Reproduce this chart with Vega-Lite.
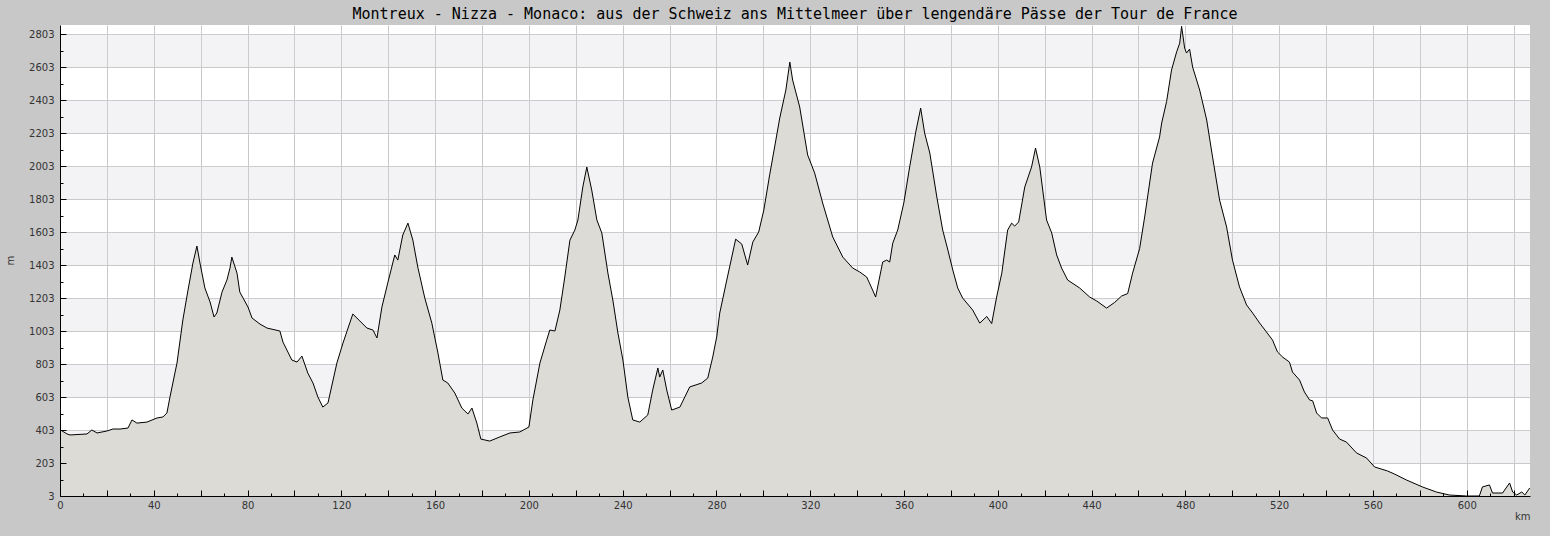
{
  "$schema": "https://vega.github.io/schema/vega-lite/v6.json",
  "width": 1470,
  "height": 471,
  "autosize": {"type": "none"},
  "padding": {"left": 60, "top": 25, "right": 20, "bottom": 40},
  "background": "#c8c8c8",
  "title": {"text": "Montreux - Nizza - Monaco: aus der Schweiz ans Mittelmeer über lengendäre Pässe der Tour de France", "font": "DejaVu Sans Mono", "fontSize": 15, "fontWeight": "normal", "color": "#000000", "anchor": "middle", "offset": 3},
  "config": {
    "view": {"fill": "white", "stroke": null},
    "axis": {"labelFont": "DejaVu Sans", "labelFontSize": 10, "labelColor": "#333333", "titleFont": "DejaVu Sans", "titleFontSize": 10, "titleFontWeight": "normal", "titleColor": "#333333", "domainColor": "#000000", "tickColor": "#000000", "gridColor": "#c8c8c8", "labelOverlap": false, "labelFlush": false}
  },
  "resolve": {"axis": {"x": "independent", "y": "independent"}},
  "datasets": {
    "bands": [
      {"lo": 203, "hi": 403}, {"lo": 603, "hi": 803}, {"lo": 1003, "hi": 1203}, {"lo": 1403, "hi": 1603},
      {"lo": 1803, "hi": 2003}, {"lo": 2203, "hi": 2403}, {"lo": 2603, "hi": 2803}
    ],
    "profile": [
      {"km": 0, "m": 405}, {"km": 3, "m": 379}, {"km": 4.3, "m": 373}, {"km": 11.5, "m": 379}, {"km": 13.6, "m": 403},
      {"km": 15.8, "m": 385}, {"km": 20, "m": 397}, {"km": 22.6, "m": 409}, {"km": 25.6, "m": 409}, {"km": 29, "m": 415},
      {"km": 30.7, "m": 464}, {"km": 32.8, "m": 445}, {"km": 37.1, "m": 451}, {"km": 41.4, "m": 476}, {"km": 43.9, "m": 482},
      {"km": 45.6, "m": 506}, {"km": 46.9, "m": 603}, {"km": 49.9, "m": 809}, {"km": 52.4, "m": 1070}, {"km": 54.6, "m": 1251},
      {"km": 56.7, "m": 1415}, {"km": 58.4, "m": 1518}, {"km": 59.7, "m": 1415}, {"km": 61.8, "m": 1264}, {"km": 64, "m": 1179},
      {"km": 65.7, "m": 1088}, {"km": 66.9, "m": 1112}, {"km": 69.1, "m": 1239}, {"km": 71.2, "m": 1312}, {"km": 72.5, "m": 1385},
      {"km": 73.3, "m": 1451}, {"km": 75.5, "m": 1354}, {"km": 76.7, "m": 1239}, {"km": 80.2, "m": 1148}, {"km": 81.9, "m": 1082},
      {"km": 85.3, "m": 1045}, {"km": 88.3, "m": 1021}, {"km": 93.8, "m": 1003}, {"km": 95.1, "m": 936}, {"km": 98.9, "m": 827},
      {"km": 101.1, "m": 815}, {"km": 103.2, "m": 851}, {"km": 105.7, "m": 748}, {"km": 107.9, "m": 688}, {"km": 110, "m": 603},
      {"km": 112.1, "m": 542}, {"km": 114.3, "m": 567}, {"km": 118.1, "m": 809}, {"km": 120.7, "m": 930}, {"km": 124.9, "m": 1106},
      {"km": 127.9, "m": 1064}, {"km": 130.9, "m": 1021}, {"km": 133.5, "m": 1009}, {"km": 135.2, "m": 961}, {"km": 137.3, "m": 1148},
      {"km": 139.9, "m": 1300}, {"km": 142.8, "m": 1464}, {"km": 144.1, "m": 1433}, {"km": 146.2, "m": 1585}, {"km": 148.4, "m": 1657},
      {"km": 150.5, "m": 1554}, {"km": 152.6, "m": 1391}, {"km": 155.6, "m": 1203}, {"km": 158.6, "m": 1051}, {"km": 161.2, "m": 870},
      {"km": 163.3, "m": 706}, {"km": 165.4, "m": 688}, {"km": 168.4, "m": 627}, {"km": 171.4, "m": 536}, {"km": 174, "m": 500},
      {"km": 175.7, "m": 536}, {"km": 177.8, "m": 445}, {"km": 179.5, "m": 348}, {"km": 183.3, "m": 336}, {"km": 187.6, "m": 361},
      {"km": 191.9, "m": 385}, {"km": 196.1, "m": 391}, {"km": 200, "m": 421}, {"km": 201.7, "m": 585}, {"km": 204.7, "m": 809},
      {"km": 207.6, "m": 948}, {"km": 208.9, "m": 1009}, {"km": 211.1, "m": 1003}, {"km": 213.2, "m": 1130}, {"km": 215.3, "m": 1330},
      {"km": 217.5, "m": 1554}, {"km": 219.6, "m": 1615}, {"km": 220.9, "m": 1676}, {"km": 223, "m": 1876}, {"km": 224.7, "m": 1997},
      {"km": 226.8, "m": 1857}, {"km": 229, "m": 1676}, {"km": 231.1, "m": 1597}, {"km": 233.7, "m": 1354}, {"km": 235.8, "m": 1191},
      {"km": 237.9, "m": 997}, {"km": 240.1, "m": 827}, {"km": 242.2, "m": 603}, {"km": 244.3, "m": 464}, {"km": 247.3, "m": 451},
      {"km": 250.7, "m": 494}, {"km": 252.8, "m": 645}, {"km": 255, "m": 779}, {"km": 255.8, "m": 724}, {"km": 257.1, "m": 767},
      {"km": 258.8, "m": 645}, {"km": 260.9, "m": 524}, {"km": 264.4, "m": 542}, {"km": 266.5, "m": 603}, {"km": 268.6, "m": 664},
      {"km": 273.7, "m": 688}, {"km": 276.3, "m": 718}, {"km": 278.4, "m": 845}, {"km": 280.1, "m": 967}, {"km": 281.4, "m": 1112},
      {"km": 284.4, "m": 1312}, {"km": 288.2, "m": 1560}, {"km": 290.8, "m": 1530}, {"km": 293.3, "m": 1403}, {"km": 295.5, "m": 1542},
      {"km": 298, "m": 1603}, {"km": 300.2, "m": 1736}, {"km": 302.7, "m": 1950}, {"km": 307, "m": 2294}, {"km": 309.6, "m": 2464},
      {"km": 311.3, "m": 2633}, {"km": 312.5, "m": 2524}, {"km": 315.5, "m": 2361}, {"km": 318.9, "m": 2070}, {"km": 321.9, "m": 1960},
      {"km": 325.3, "m": 1779}, {"km": 329.6, "m": 1573}, {"km": 333.9, "m": 1451}, {"km": 338.1, "m": 1385}, {"km": 341.1, "m": 1361},
      {"km": 344.1, "m": 1330}, {"km": 346.2, "m": 1264}, {"km": 347.9, "m": 1209}, {"km": 350.9, "m": 1421}, {"km": 352.6, "m": 1433},
      {"km": 353.9, "m": 1421}, {"km": 355.2, "m": 1536}, {"km": 357.3, "m": 1615}, {"km": 359.9, "m": 1779}, {"km": 362.4, "m": 1997},
      {"km": 365, "m": 2209}, {"km": 367.1, "m": 2354}, {"km": 368.8, "m": 2203}, {"km": 371, "m": 2082}, {"km": 374, "m": 1815},
      {"km": 376.5, "m": 1615}, {"km": 378.7, "m": 1494}, {"km": 380.8, "m": 1373}, {"km": 382.9, "m": 1264}, {"km": 385, "m": 1203},
      {"km": 389.3, "m": 1130}, {"km": 392.3, "m": 1051}, {"km": 395.3, "m": 1091}, {"km": 397.4, "m": 1048}, {"km": 399.5, "m": 1209},
      {"km": 401.7, "m": 1354}, {"km": 404.2, "m": 1615}, {"km": 405.9, "m": 1657}, {"km": 407.2, "m": 1639}, {"km": 408.9, "m": 1664},
      {"km": 411.5, "m": 1876}, {"km": 414.4, "m": 1997}, {"km": 416.1, "m": 2112}, {"km": 417.9, "m": 1997}, {"km": 420.8, "m": 1676},
      {"km": 423, "m": 1597}, {"km": 425.1, "m": 1464}, {"km": 427.2, "m": 1385}, {"km": 429.8, "m": 1312}, {"km": 434.9, "m": 1264},
      {"km": 439.2, "m": 1209}, {"km": 442.2, "m": 1185}, {"km": 446.4, "m": 1142}, {"km": 449.8, "m": 1176}, {"km": 452.8, "m": 1215},
      {"km": 455.4, "m": 1230}, {"km": 457.5, "m": 1354}, {"km": 460.5, "m": 1503}, {"km": 462.7, "m": 1700}, {"km": 466, "m": 2021},
      {"km": 469, "m": 2179}, {"km": 469.9, "m": 2264}, {"km": 472, "m": 2394}, {"km": 474.1, "m": 2585}, {"km": 476.3, "m": 2696},
      {"km": 477.6, "m": 2748}, {"km": 478.4, "m": 2850}, {"km": 478.8, "m": 2809}, {"km": 479.7, "m": 2718}, {"km": 480.5, "m": 2688},
      {"km": 481.8, "m": 2712}, {"km": 483.1, "m": 2603}, {"km": 486.1, "m": 2464}, {"km": 489.1, "m": 2282}, {"km": 491.6, "m": 2058},
      {"km": 494.6, "m": 1797}, {"km": 497.6, "m": 1633}, {"km": 500.1, "m": 1433}, {"km": 503.1, "m": 1270}, {"km": 506.1, "m": 1161},
      {"km": 508.7, "m": 1112}, {"km": 511.7, "m": 1051}, {"km": 514.6, "m": 997}, {"km": 517.2, "m": 948}, {"km": 519.3, "m": 876},
      {"km": 521.5, "m": 845}, {"km": 524.4, "m": 815}, {"km": 525.7, "m": 754}, {"km": 528.7, "m": 706}, {"km": 530.8, "m": 633},
      {"km": 533, "m": 585}, {"km": 534.3, "m": 580}, {"km": 536, "m": 506}, {"km": 538.1, "m": 476}, {"km": 540.7, "m": 476},
      {"km": 542.8, "m": 403}, {"km": 545.8, "m": 348}, {"km": 548.7, "m": 330}, {"km": 553, "m": 264}, {"km": 557.3, "m": 233},
      {"km": 560.7, "m": 179}, {"km": 566.2, "m": 155}, {"km": 569.2, "m": 136}, {"km": 574.3, "m": 100}, {"km": 581.1, "m": 58},
      {"km": 587.1, "m": 27}, {"km": 592.6, "m": 9}, {"km": 599.9, "m": 3}, {"km": 605.4, "m": 3}, {"km": 606.7, "m": 58},
      {"km": 609.7, "m": 70}, {"km": 611, "m": 21}, {"km": 615.3, "m": 21}, {"km": 618.3, "m": 82}, {"km": 619.6, "m": 27},
      {"km": 621.3, "m": 9}, {"km": 623.5, "m": 27}, {"km": 624.8, "m": 9}, {"km": 626.9, "m": 52}
    ]
  },
  "layer": [
    {
      "data": {"name": "bands"},
      "mark": {"type": "rect", "color": "#d7d4de", "opacity": 0.3},
      "encoding": {
        "x": {"datum": 0, "type": "quantitative", "scale": {"domain": [0, 627], "nice": false, "zero": false},
          "axis": {"orient": "bottom", "title": null, "labels": false, "ticks": false, "domain": false, "grid": true, "zindex": 0,
            "values": [20,40,60,80,100,120,140,160,180,200,220,240,260,280,300,320,340,360,380,400,420,440,460,480,500,520,540,560,580,600,620]}},
        "x2": {"datum": 627},
        "y": {"field": "lo", "type": "quantitative", "scale": {"domain": [3, 2858], "nice": false, "zero": false},
          "axis": {"orient": "left", "title": null, "labels": false, "ticks": false, "domain": false, "grid": true, "zindex": 0,
            "values": [203,403,603,803,1003,1203,1403,1603,1803,2003,2203,2403,2603,2803]}},
        "y2": {"field": "hi"}
      }
    },
    {
      "data": {"name": "profile"},
      "mark": {"type": "area", "color": "#dcdbd6", "fillOpacity": 1, "line": {"color": "#000000", "strokeWidth": 1}, "clip": true},
      "encoding": {
        "x": {
          "field": "km", "type": "quantitative",
          "scale": {"domain": [0, 627], "nice": false, "zero": false},
          "axis": {
            "orient": "bottom",
            "title": "km", "titleX": 1470, "titleY": 20, "titleAlign": "right", "titleBaseline": "middle",
            "values": [0,10,20,30,40,50,60,70,80,90,100,110,120,130,140,150,160,170,180,190,200,210,220,230,240,250,260,270,280,290,300,310,320,330,340,350,360,370,380,390,400,410,420,430,440,450,460,470,480,490,500,510,520,530,540,550,560,570,580,590,600,610,620],
            "labelExpr": "datum.value % 40 == 0 ? datum.label : ''",
            "format": "d",
            "grid": false,
            "tickSize": {"condition": {"test": "datum.value % 20 == 0", "value": -6}, "value": -3},
            "labelPadding": 10,
            "zindex": 1
          }
        },
        "y": {
          "field": "m", "type": "quantitative",
          "scale": {"domain": [3, 2858], "nice": false, "zero": false},
          "axis": {
            "orient": "left",
            "title": "m", "titleX": -50, "titleY": 235, "titleAngle": -90, "titleAlign": "center", "titleBaseline": "middle",
            "values": [3,103,203,303,403,503,603,703,803,903,1003,1103,1203,1303,1403,1503,1603,1703,1803,1903,2003,2103,2203,2303,2403,2503,2603,2703,2803],
            "labelExpr": "datum.value % 200 == 3 ? datum.label : ''",
            "format": "d",
            "grid": false,
            "tickSize": {"condition": {"test": "datum.value % 200 == 3", "value": -6}, "value": -3},
            "labelPadding": 12,
            "zindex": 1
          }
        }
      }
    }
  ]
}
